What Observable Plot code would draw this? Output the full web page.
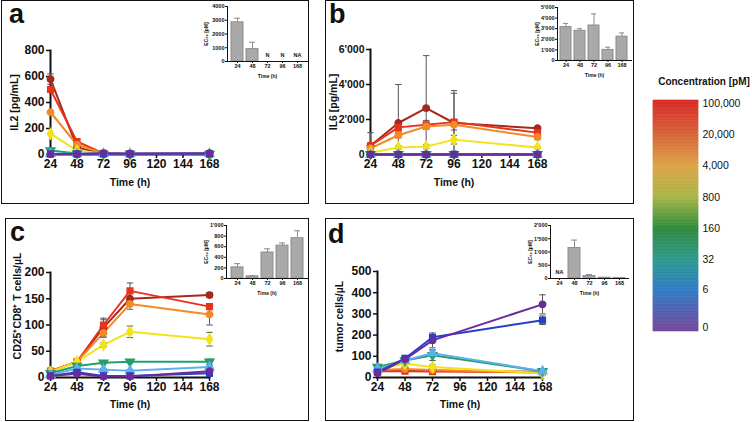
<!DOCTYPE html>
<html><head><meta charset="utf-8">
<script src="https://cdn.jsdelivr.net/npm/d3@7"></script>
<script src="https://cdn.jsdelivr.net/npm/@observablehq/plot@0.6"></script>
<style>
body{margin:0;background:#fff;font-family:"Liberation Sans",Arial,sans-serif;}
#root{position:relative;width:752px;height:422px;overflow:hidden;background:#fff}
.box{position:absolute;border:1.5px solid #111;box-sizing:border-box}
.letter{position:absolute;font-weight:bold;font-size:27px;line-height:26px;color:#111}
.abs{position:absolute}
.abs svg{display:block;overflow:visible;max-width:none}
.legtitle{position:absolute;left:650px;top:76px;width:108px;text-align:center;font-weight:bold;font-size:10px;color:#111}
</style></head>
<body><div id="root"></div>
<script>
// ---------- shared categories ----------
const times = [24, 48, 72, 96, 168];
const timeLabels = ["24", "48", "72", "96", "168"];
const xTicks = [24, 48, 72, 96, 120, 144, 168];
const concentrations = ["0", "6", "32", "160", "800", "4,000", "20,000", "100,000"];
const concValues = [0, 6, 32, 160, 800, 4000, 20000, 100000];
const seriesColors = ["#6a2c9c", "#2440c6", "#5eaef0", "#21a06b", "#f2e21a", "#f38a26", "#e8331c", "#a52a1e"];
const seriesSymbols = ["circle", "square", "triangle", "triangle", "diamond", "circle", "square", "circle"];
const legendColors = ["#6e4c9e", "#2f7cc6", "#2e9a8c", "#2f8a3c", "#a6b646", "#dca446", "#d6643a", "#d92e27"];

// ---------- panel a: IL2 [pg/mL] (rows = concentrations 0 .. 100,000) ----------
const il2 = [
  [3, 3, 10, 6, 10],
  [3, 3, 5, 5, 5],
  [5, 5, 5, 5, 5],
  [30, 8, 3, 3, 3],
  [160, 30, 5, 3, 3],
  [325, 75, 8, 5, 5],
  [500, 100, 8, 5, 5],
  [580, 55, 5, 5, 5]
];
const il2Err = [
  [0,0,0,0,0],[0,0,0,0,0],[0,0,0,0,0],[0,0,0,0,0],
  [0,0,0,0,0],[0,0,0,0,0],[0,15,0,0,0],[40,0,0,0,0]
];
const ec50A = [2850, 900, null, null, null];
const ec50AErr = [300, 500, 0, 0, 0];
const ec50ANotes = ["", "", "N", "N", "NA"];

// ---------- panel b: IL6 [pg/mL] ----------
const il6 = [
  [0, 0, 0, 0, 0],
  [0, 0, 0, 0, 0],
  [0, 0, 0, 0, 0],
  [10, 10, 10, 10, 10],
  [100, 400, 450, 850, 400],
  [350, 1100, 1600, 1700, 1000],
  [500, 1550, 1700, 1850, 1250],
  [500, 1800, 2650, 1800, 1500]
];
const il6Err = [
  [0,0,0,0,0],[0,0,0,0,0],[0,0,0,0,0],[0,0,0,0,0],
  [50, 100, 120, 250, 60],
  [100, 150, 150, 300, 150],
  [150, 250, 250, 1650, 150],
  [750, 2200, 3000, 1850, 100]
];
const ec50B = [3150, 2800, 3300, 1000, 2250];
const ec50BErr = [350, 200, 1100, 250, 350];
const ec50BNotes = ["", "", "", "", ""];

// ---------- panel c: CD25+CD8+ T cells/µL ----------
const tcells = [
  [3, 7, 2, 2, 12],
  [3, 10, 3, 3, 8],
  [5, 17, 15, 13, 20],
  [8, 22, 28, 30, 30],
  [10, 30, 62, 87, 73],
  [12, 30, 85, 140, 120],
  [12, 30, 100, 165, 135],
  [12, 30, 95, 150, 157]
];
const tcellsErr = [
  [1, 2, 1, 1, 2],
  [1, 2, 1, 1, 2],
  [1, 2, 2, 2, 3],
  [1, 2, 2, 2, 5],
  [2, 3, 4, 11, 13],
  [2, 3, 8, 10, 20],
  [2, 3, 10, 15, 5],
  [2, 3, 18, 12, 5]
];
const ec50C = [210, 40, 490, 620, 760];
const ec50CErr = [70, 10, 70, 50, 140];
const ec50CNotes = ["", "", "", "", ""];

// ---------- panel d: tumor cells/µL (no 96 h sample) ----------
const tumor = [
  [20, 85, 175, null, 345],
  [25, 90, 190, null, 270],
  [40, 80, 115, null, 30],
  [50, 80, 105, null, 30],
  [40, 65, 50, null, 20],
  [35, 40, 35, null, 22],
  [30, 30, 28, null, 25],
  [32, 35, 32, null, 27]
];
const tumorErr = [
  [3, 10, 35, 0, 45],
  [3, 10, 8, 0, 20],
  [5, 8, 15, 0, 5],
  [5, 8, 25, 0, 5],
  [5, 15, 10, 0, 3],
  [3, 5, 5, 0, 3],
  [3, 5, 5, 0, 3],
  [3, 5, 5, 0, 3]
];
const ec50D = [null, 1150, 90, 30, 15];
const ec50DErr = [0, 300, 60, 0, 0];
const ec50DNotes = ["NA", "", "", "", ""];

// ---------- helpers ----------
const fontFam = '"Liberation Sans", Arial, Helvetica, sans-serif';
const root = document.getElementById("root");
const apos = d => d3.format(",")(d).replace(/,/g, "'");
const capSymbol = {draw(ctx, size) { const w = Math.sqrt(size); ctx.moveTo(-w, 0); ctx.lineTo(w, 0); }};

function place(node, left, top, w) {
  const d = document.createElement("div");
  d.className = "abs";
  d.style.left = left + "px"; d.style.top = top + "px";
  if (w) d.style.width = w + "px";
  d.appendChild(node);
  root.appendChild(d);
}
function box(l, t, w, h) {
  const d = document.createElement("div");
  d.className = "box";
  Object.assign(d.style, {left: l + "px", top: t + "px", width: w + "px", height: h + "px"});
  root.appendChild(d);
}
function letter(txt, l, t) {
  const d = document.createElement("div");
  d.className = "letter"; d.textContent = txt;
  d.style.left = l + "px"; d.style.top = t + "px";
  root.appendChild(d);
}

function buildRows(values, errs) {
  const rows = [];
  for (let ci = concentrations.length - 1; ci >= 0; --ci) {
    times.forEach((t, ti) => {
      const v = values[ci][ti];
      if (v == null) return;
      rows.push({t, v, e: errs[ci][ti] || 0, c: concentrations[ci], ci});
    });
  }
  return rows;
}

function mainPlot(o) {
  const rows = buildRows(o.values, o.errs);
  const eb = rows.filter(d => d.e > 0);
  const yMid = (o.yDomain[0] + o.yDomain[1]) / 2;
  const yLabelMark = o.yLabelDy
    ? Plot.text([o.yLabel], {x: 24, y: yMid, text: d => d, rotate: -90, textAnchor: "middle", lineAnchor: "top", dx: -o.yLabelOffset, dy: o.yLabelDy, fontSize: 10.5})
    : Plot.axisY({ticks: [], label: o.yLabel, labelAnchor: "center", labelArrow: "none", labelOffset: o.yLabelOffset, fontSize: 10.5});
  return Plot.plot({
    width: o.width, height: o.height,
    marginLeft: o.mL, marginRight: o.mR, marginTop: o.mT, marginBottom: o.mB,
    style: {fontFamily: fontFam, fontSize: "12px", fontWeight: "bold", color: "#111", background: "transparent", overflow: "visible"},
    x: {domain: [24, 168]},
    y: {domain: o.yDomain},
    color: {domain: concentrations, range: seriesColors},
    symbol: {domain: concentrations, range: seriesSymbols},
    marks: [
      Plot.axisY({ticks: o.yTicks, tickFormat: o.yFormat, tickSize: 4, tickPadding: 2, strokeWidth: 1.5, label: null, fontSize: o.yTickFont || 12}),
      yLabelMark,
      Plot.axisX({ticks: xTicks, tickSize: 4, tickPadding: 1, strokeWidth: 1.5, label: null}),
      Plot.axisX({ticks: [], label: "Time (h)", labelAnchor: "center", labelArrow: "none", labelOffset: o.xLabelOffset, fontSize: 10.5}),
      Plot.frame({anchor: "left", strokeWidth: 2}),
      Plot.frame({anchor: "bottom", strokeWidth: 2}),
      Plot.line(rows, {x: "t", y: "v", z: "c", stroke: "c", strokeWidth: 2}),
      Plot.ruleX(eb, {x: "t", y1: d => Math.max(0, d.v - d.e), y2: d => d.v + d.e, stroke: "#555", strokeWidth: 1}),
      Plot.dot(eb, {x: "t", y: d => d.v + d.e, symbol: capSymbol, r: 1.8, fill: "none", stroke: "#555", strokeWidth: 1}),
      Plot.dot(eb.filter(d => d.v - d.e > 0), {x: "t", y: d => d.v - d.e, symbol: capSymbol, r: 1.8, fill: "none", stroke: "#555", strokeWidth: 1}),
      Plot.dot(rows, {x: "t", y: "v", fill: "c", stroke: "c", symbol: "c", r: 3.2, rotate: d => d.ci === 3 ? 180 : 0})
    ]
  });
}

function insetPlot(o) {
  const rows = timeLabels.map((t, i) => ({t, v: o.values[i], e: o.errs[i], note: o.notes[i]}));
  const bars = rows.filter(d => d.v != null);
  const eb = bars.filter(d => d.e > 0);
  return Plot.plot({
    width: o.width, height: o.height,
    marginLeft: o.mL, marginRight: o.mR, marginTop: o.mT, marginBottom: o.mB,
    style: {fontFamily: fontFam, fontSize: "5.5px", fontWeight: "bold", color: "#111", background: "transparent", overflow: "visible"},
    x: {type: "band", domain: timeLabels, padding: 0.2},
    y: {domain: o.yDomain},
    marks: [
      Plot.barY(bars, {x: "t", y: "v", fill: "#a9a9a9", stroke: "#8c8c8c", strokeWidth: 1}),
      Plot.ruleX(eb, {x: "t", y1: "v", y2: d => d.v + d.e, stroke: "#8c8c8c", strokeWidth: 1}),
      Plot.tickY(eb, {x: "t", y: d => d.v + d.e, stroke: "#8c8c8c", strokeWidth: 1, insetLeft: 3, insetRight: 3}),
      Plot.text(rows.filter(d => d.note), {x: "t", y: 0, text: "note", dy: -6}),
      Plot.axisY({ticks: o.yTicks, tickFormat: o.yFormat, tickSize: 2, tickPadding: 1, label: null}),
      Plot.axisY({ticks: [], label: "EC₅₀ [pM]", labelAnchor: "center", labelArrow: "none", labelOffset: o.yLabelOffset, fontSize: 5}),
      Plot.axisX({tickSize: 2, tickPadding: 1, label: null}),
      Plot.axisX({ticks: [], label: "Time (h)", labelAnchor: "center", labelArrow: "none", labelOffset: 16, fontSize: 5}),
      Plot.frame({anchor: "left", strokeWidth: 1}),
      Plot.frame({anchor: "bottom", strokeWidth: 1})
    ]
  });
}

// ---------- frames and letters ----------
box(1, 0, 308, 204);
box(325, 0, 309, 204);
box(5, 218, 304, 203);
box(325, 218, 309, 203);
letter("a", 9, 1);
letter("b", 329, 1);
letter("c", 10, 219);
letter("d", 328, 221);

// ---------- panel a ----------
place(mainPlot({values: il2, errs: il2Err, yDomain: [0, 800], yTicks: [0, 200, 400, 600, 800], yFormat: d => String(d),
  yLabel: "IL2 [pg/mL]", yLabelOffset: 40, xLabelOffset: 31,
  width: 230, height: 174, mL: 50, mR: 21, mT: 20, mB: 50}), 0, 30, 230);
place(insetPlot({values: ec50A, errs: ec50AErr, notes: ec50ANotes, yDomain: [0, 4000], yTicks: [0, 1000, 2000, 3000, 4000], yFormat: d => String(d),
  yLabelOffset: 23, width: 118, height: 83, mL: 37, mR: 1, mT: 6, mB: 22}), 190, 0, 118);

// ---------- panel b ----------
place(mainPlot({values: il6, errs: il6Err, yDomain: [0, 6000], yTicks: [0, 2000, 4000, 6000], yFormat: apos, yTickFont: 10.5,
  yLabel: "IL6 [pg/mL]", yLabelOffset: 41, xLabelOffset: 31,
  width: 240, height: 175, mL: 50, mR: 23, mT: 20, mB: 50}), 320, 29, 240);
place(insetPlot({values: ec50B, errs: ec50BErr, notes: ec50BNotes, yDomain: [0, 5000], yTicks: [0, 1000, 2000, 3000, 4000, 5000], yFormat: apos,
  yLabelOffset: 22, width: 113, height: 82, mL: 37, mR: 2, mT: 7, mB: 22}), 520, 0, 113);

// ---------- panel c ----------
place(mainPlot({values: tcells, errs: tcellsErr, yDomain: [0, 200], yTicks: [0, 50, 100, 150, 200], yFormat: d => String(d),
  yLabel: "CD25⁺CD8⁺ T cells/µL", yLabelOffset: 37, yLabelDy: -19, xLabelOffset: 30,
  width: 230, height: 170, mL: 50, mR: 21, mT: 20, mB: 45}), 0, 252, 230);
place(insetPlot({values: ec50C, errs: ec50CErr, notes: ec50CNotes, yDomain: [0, 1000], yTicks: [0, 200, 400, 600, 800, 1000], yFormat: apos,
  yLabelOffset: 22, width: 118, height: 82, mL: 36, mR: 1, mT: 7, mB: 22}), 190, 218, 118);

// ---------- panel d ----------
place(mainPlot({values: tumor, errs: tumorErr, yDomain: [0, 500], yTicks: [0, 100, 200, 300, 400, 500], yFormat: d => String(d),
  yLabel: "tumor cells/µL", yLabelOffset: 42, yLabelDy: -8, xLabelOffset: 30,
  width: 242, height: 171, mL: 57, mR: 20, mT: 20, mB: 45}), 320, 251, 242);
place(insetPlot({values: ec50D, errs: ec50DErr, notes: ec50DNotes, yDomain: [0, 2000], yTicks: [0, 500, 1000, 1500, 2000], yFormat: apos,
  yLabelOffset: 22, width: 118, height: 82, mL: 37, mR: 3, mT: 7, mB: 22}), 513, 218, 118);

// ---------- colour legend ----------
const lt = document.createElement("div");
lt.className = "legtitle"; lt.textContent = "Concentration [pM]";
root.appendChild(lt);

const lo = -Math.log1p(0.23), hi = Math.log1p(116700);
const inv = t => Math.sign(t) * Math.expm1(Math.abs(t));
const slices = d3.range(160).map(i => {
  const a = lo + (hi - lo) * i / 160, b = lo + (hi - lo) * (i + 1) / 160;
  return {y1: inv(a), y2: inv(b), m: inv((a + b) / 2)};
});
place(Plot.plot({
  width: 112, height: 240, marginLeft: 13, marginRight: 54, marginTop: 5, marginBottom: 4,
  style: {fontFamily: fontFam, fontSize: "10.5px", color: "#111", background: "transparent", overflow: "visible"},
  x: {domain: [0, 1], axis: null},
  y: {type: "symlog", constant: 1, domain: [-0.23, 116700], axis: null},
  color: {type: "symlog", constant: 1, domain: concValues, range: legendColors},
  marks: [
    Plot.rect(slices, {x1: 0, x2: 1, y1: "y1", y2: "y2", fill: "m", stroke: "m", strokeWidth: 0.6}),
    Plot.text(concValues, {x: 1, y: d => d, text: (d, i) => concentrations[i], dx: 4, textAnchor: "start"})
  ]
}), 640, 95, 112);
</script>
</body></html>
